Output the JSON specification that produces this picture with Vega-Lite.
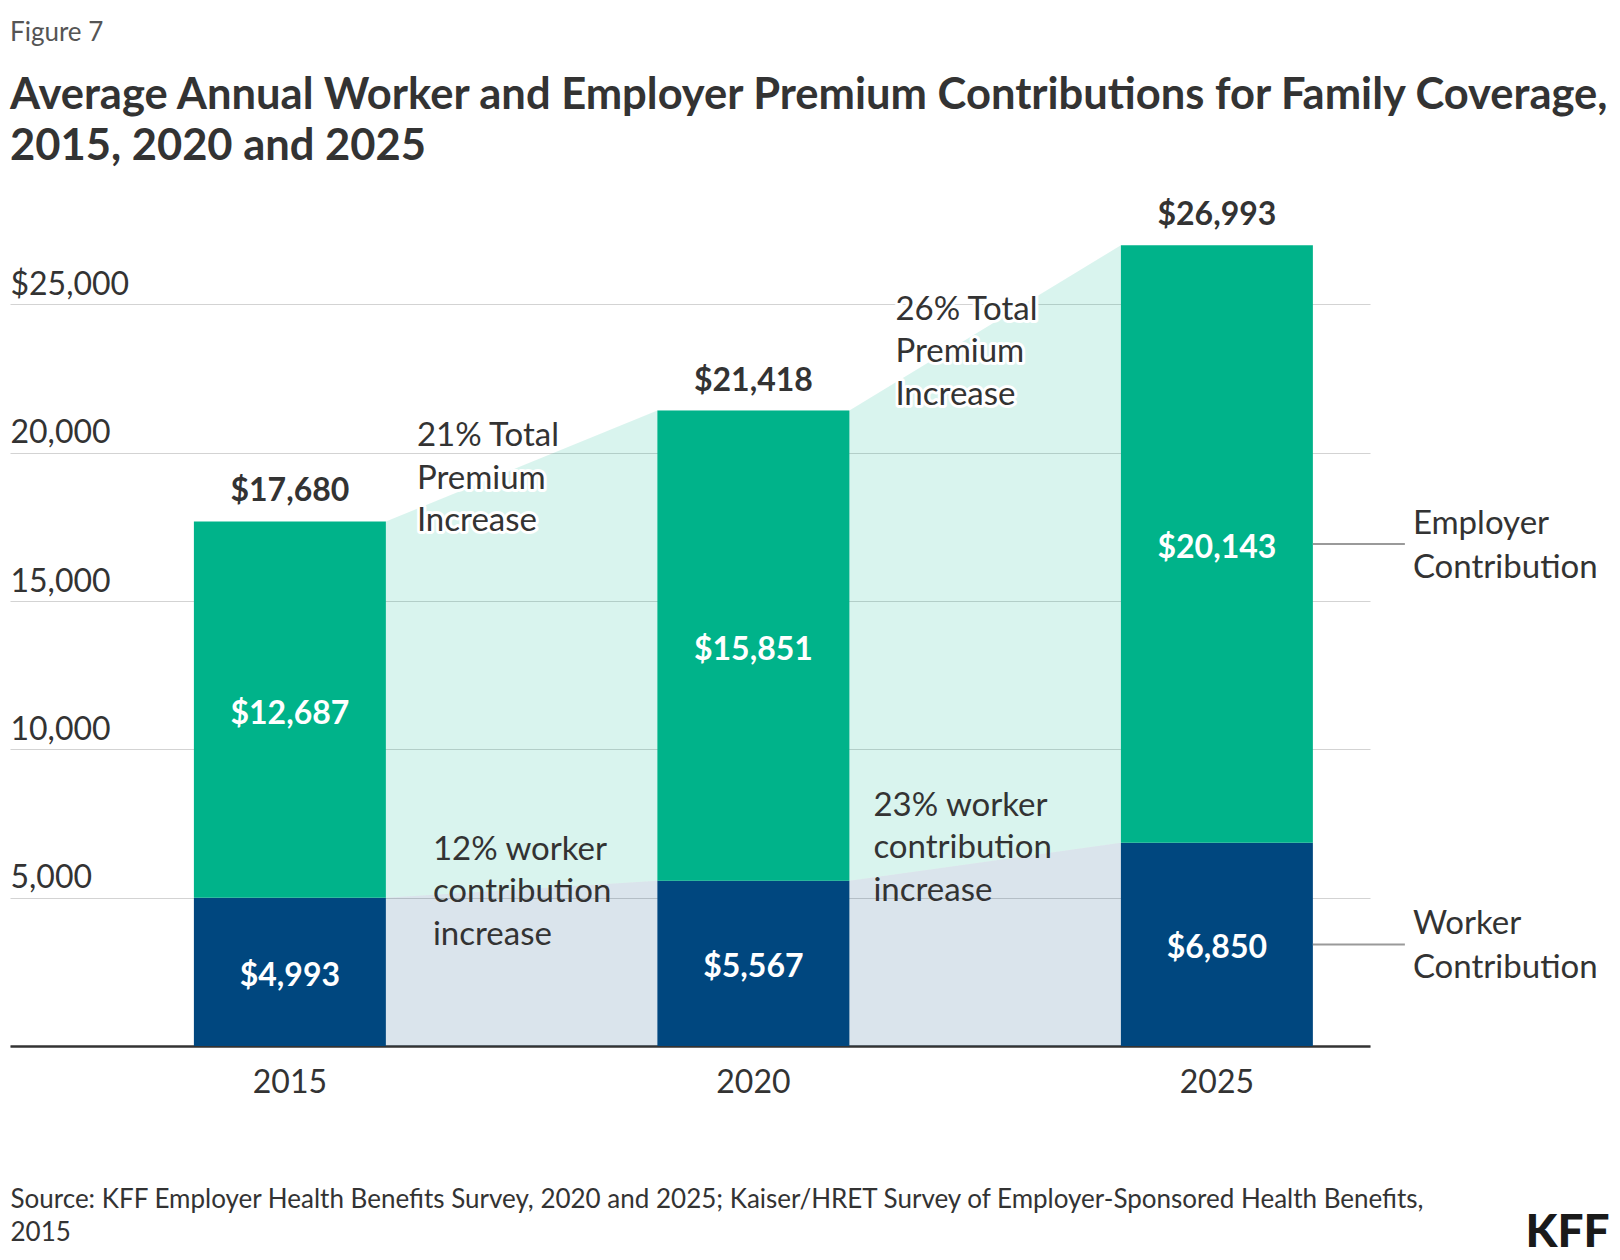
{
  "$schema": "https://vega.github.io/schema/vega-lite/v6.json",
  "width": 1360,
  "height": 801,
  "autosize": {"type": "none"},
  "padding": {"left": 10, "top": 245, "right": 250, "bottom": 214},
  "background": "#ffffff",
  "title": {
    "text": "Figure 7",
    "subtitle": ["Average Annual Worker and Employer Premium Contributions for Family Coverage,", "2015, 2020 and 2025"],
    "anchor": "start",
    "frame": "group",
    "offset": 31,
    "font": "Lato",
    "fontSize": 26,
    "fontWeight": "normal",
    "color": "#555555",
    "subtitleFont": "Lato",
    "subtitleFontSize": 43.5,
    "subtitleFontWeight": "bold",
    "subtitleColor": "#333333",
    "subtitleLineHeight": 51,
    "subtitlePadding": 29
  },
  "datasets": {
    "premiums": [
      {"year": "2015", "series": "Worker Contribution", "value": 4993},
      {"year": "2015", "series": "Employer Contribution", "value": 12687},
      {"year": "2020", "series": "Worker Contribution", "value": 5567},
      {"year": "2020", "series": "Employer Contribution", "value": 15851},
      {"year": "2025", "series": "Worker Contribution", "value": 6850},
      {"year": "2025", "series": "Employer Contribution", "value": 20143}
    ],
    "edges": [
      {"year": "2015", "side": "right", "total": 17680, "worker": 4993},
      {"year": "2020", "side": "left", "total": 21418, "worker": 5567},
      {"year": "2020", "side": "right", "total": 21418, "worker": 5567},
      {"year": "2025", "side": "left", "total": 26993, "worker": 6850}
    ],
    "notes": [
      {"year": "2015", "kind": "total", "value": 17680, "note": "21% Total\nPremium\nIncrease"},
      {"year": "2020", "kind": "total", "value": 21418, "note": "26% Total\nPremium\nIncrease"},
      {"year": "2015", "kind": "worker", "value": 4993, "note": "12% worker\ncontribution\nincrease"},
      {"year": "2020", "kind": "worker", "value": 5567, "note": "23% worker\ncontribution\nincrease"}
    ]
  },
  "data": {"name": "premiums"},
  "encoding": {
    "x": {
      "field": "year",
      "type": "nominal",
      "sort": ["2015", "2020", "2025"],
      "scale": {"paddingInner": 0.5858, "paddingOuter": 0.26, "align": 0.763},
      "axis": {
        "title": ["Source: KFF Employer Health Benefits Survey, 2020 and 2025; Kaiser/HRET Survey of Employer-Sponsored Health Benefits,", "2015"]
      }
    }
  },
  "resolve": {"scale": {"xOffset": "independent"}},
  "layer": [
    {
      "data": {"name": "edges"},
      "mark": {"type": "area", "color": "#00b38a", "opacity": 0.15},
      "encoding": {
        "xOffset": {"field": "side", "type": "nominal", "scale": {"type": "point", "padding": 0, "domain": ["left", "right"]}},
        "y": {
          "field": "total",
          "type": "quantitative",
          "scale": {"domain": [0, 27000], "nice": false},
          "axis": {
            "values": [0, 5000, 10000, 15000, 20000, 25000],
            "labelExpr": "datum.value == 0 ? '' : (datum.value == 25000 ? '$25,000' : format(datum.value, ','))",
            "title": "KFF"
          }
        },
        "y2": {"field": "worker"},
        "order": {"value": null}
      }
    },
    {
      "data": {"name": "edges"},
      "mark": {"type": "area", "color": "#00477f", "opacity": 0.145},
      "encoding": {
        "xOffset": {"field": "side", "type": "nominal", "scale": {"type": "point", "padding": 0, "domain": ["left", "right"]}},
        "y": {"field": "worker", "type": "quantitative"},
        "y2": {"datum": 0},
        "order": {"value": null}
      }
    },
    {
      "transform": [
        {"stack": "value", "groupby": ["year"], "sort": [{"field": "series", "order": "descending"}], "as": ["v0", "v1"]}
      ],
      "mark": {"type": "bar"},
      "encoding": {
        "y": {"field": "v0", "type": "quantitative"},
        "y2": {"field": "v1"},
        "color": {
          "field": "series",
          "type": "nominal",
          "scale": {"domain": ["Employer Contribution", "Worker Contribution"], "range": ["#00b38a", "#00477f"]},
          "legend": null
        }
      }
    },
    {
      "transform": [
        {"stack": "value", "groupby": ["year"], "sort": [{"field": "series", "order": "descending"}], "as": ["v0", "v1"]},
        {"fold": ["v0", "v1"], "as": ["edge", "pos"]}
      ],
      "mark": {"type": "text", "color": "#ffffff", "fontSize": 32, "fontWeight": "bold", "baseline": "middle", "dy": 4},
      "encoding": {
        "y": {"aggregate": "mean", "field": "pos", "type": "quantitative"},
        "text": {"field": "value", "type": "quantitative", "format": "$,"},
        "detail": {"field": "series"}
      }
    },
    {
      "mark": {"type": "text", "color": "#333333", "fontSize": 32, "fontWeight": "bold", "baseline": "alphabetic", "dy": -20},
      "encoding": {
        "y": {"aggregate": "sum", "field": "value", "type": "quantitative"},
        "text": {"aggregate": "sum", "field": "value", "type": "quantitative", "format": "$,"}
      }
    },
    {
      "transform": [
        {"stack": "value", "groupby": ["year"], "sort": [{"field": "series", "order": "descending"}], "as": ["v0", "v1"]},
        {"fold": ["v0", "v1"], "as": ["edge", "pos"]},
        {"filter": "datum.year == '2025'"}
      ],
      "mark": {"type": "rule", "color": "#9a9a9a", "strokeWidth": 2, "x2Offset": 92},
      "encoding": {
        "x": {"field": "year", "type": "nominal", "bandPosition": 1},
        "x2": {"field": "year", "bandPosition": 1},
        "y": {"aggregate": "mean", "field": "pos", "type": "quantitative"},
        "detail": {"field": "series"}
      }
    },
    {
      "transform": [
        {"stack": "value", "groupby": ["year"], "sort": [{"field": "series", "order": "descending"}], "as": ["v0", "v1"]},
        {"fold": ["v0", "v1"], "as": ["edge", "pos"]},
        {"filter": "datum.year == '2025'"}
      ],
      "mark": {"type": "text", "align": "left", "baseline": "top", "dx": 100, "dy": -36, "fontSize": 33, "color": "#333333", "lineBreak": " ", "lineHeight": 44},
      "encoding": {
        "x": {"field": "year", "type": "nominal", "bandPosition": 1},
        "y": {"aggregate": "mean", "field": "pos", "type": "quantitative"},
        "text": {"field": "series"}
      }
    },
    {
      "data": {"name": "notes"},
      "transform": [{"filter": "datum.kind == 'total' && datum.year == '2015'"}],
      "encoding": {
        "x": {"field": "year", "type": "nominal", "bandPosition": 1},
        "y": {"field": "value", "type": "quantitative"},
        "text": {"field": "note"}
      },
      "layer": [
        {"mark": {"type": "text", "align": "left", "baseline": "top", "dx": 31, "dy": -101, "fontSize": 33, "lineHeight": 42.5, "lineBreak": "\n", "color": "#ffffff", "stroke": "#ffffff", "strokeWidth": 6, "strokeJoin": "round"}},
        {"mark": {"type": "text", "align": "left", "baseline": "top", "dx": 31, "dy": -101, "fontSize": 33, "lineHeight": 42.5, "lineBreak": "\n", "color": "#333333"}}
      ]
    },
    {
      "data": {"name": "notes"},
      "transform": [{"filter": "datum.kind == 'total' && datum.year == '2020'"}],
      "encoding": {
        "x": {"field": "year", "type": "nominal", "bandPosition": 1},
        "y": {"field": "value", "type": "quantitative"},
        "text": {"field": "note"}
      },
      "layer": [
        {"mark": {"type": "text", "align": "left", "baseline": "top", "dx": 46, "dy": -117, "fontSize": 33, "lineHeight": 42.5, "lineBreak": "\n", "color": "#ffffff", "stroke": "#ffffff", "strokeWidth": 6, "strokeJoin": "round"}},
        {"mark": {"type": "text", "align": "left", "baseline": "top", "dx": 46, "dy": -117, "fontSize": 33, "lineHeight": 42.5, "lineBreak": "\n", "color": "#333333"}}
      ]
    },
    {
      "data": {"name": "notes"},
      "transform": [{"filter": "datum.kind == 'worker' && datum.year == '2015'"}],
      "mark": {"type": "text", "align": "left", "baseline": "top", "dx": 47, "dy": -64, "fontSize": 33, "lineHeight": 42.5, "lineBreak": "\n", "color": "#333333"},
      "encoding": {
        "x": {"field": "year", "type": "nominal", "bandPosition": 1},
        "y": {"field": "value", "type": "quantitative"},
        "text": {"field": "note"}
      }
    },
    {
      "data": {"name": "notes"},
      "transform": [{"filter": "datum.kind == 'worker' && datum.year == '2020'"}],
      "mark": {"type": "text", "align": "left", "baseline": "top", "dx": 24, "dy": -91, "fontSize": 33, "lineHeight": 42.5, "lineBreak": "\n", "color": "#333333"},
      "encoding": {
        "x": {"field": "year", "type": "nominal", "bandPosition": 1},
        "y": {"field": "value", "type": "quantitative"},
        "text": {"field": "note"}
      }
    }
  ],
  "config": {
    "font": "Lato",
    "view": {"stroke": null},
    "axisX": {
      "domainColor": "#333333",
      "domainWidth": 2.5,
      "ticks": false,
      "tickSize": 0,
      "grid": false,
      "labelAngle": 0,
      "labelPadding": 21,
      "labelFontSize": 32,
      "labelColor": "#333333",
      "titleX": 0,
      "titleY": 161,
      "titleAlign": "left",
      "titleAnchor": "start",
      "titleBaseline": "alphabetic",
      "titleFontSize": 26,
      "titleFontWeight": "normal",
      "titleColor": "#333333",
      "titleLineHeight": 33
    },
    "axisY": {
      "domain": false,
      "ticks": false,
      "tickSize": 0,
      "grid": true,
      "gridColor": "#d3d3d3",
      "gridWidth": 1,
      "labelAlign": "left",
      "labelBaseline": "alphabetic",
      "labelPadding": 0,
      "labelOffset": -10,
      "labelFontSize": 32,
      "labelColor": "#333333",
      "titleAngle": 0,
      "titleAlign": "right",
      "titleBaseline": "alphabetic",
      "titleX": 1599,
      "titleY": 1001,
      "titleFontSize": 46,
      "titleFontWeight": 900,
      "titleColor": "#1a1a1a"
    }
  }
}
